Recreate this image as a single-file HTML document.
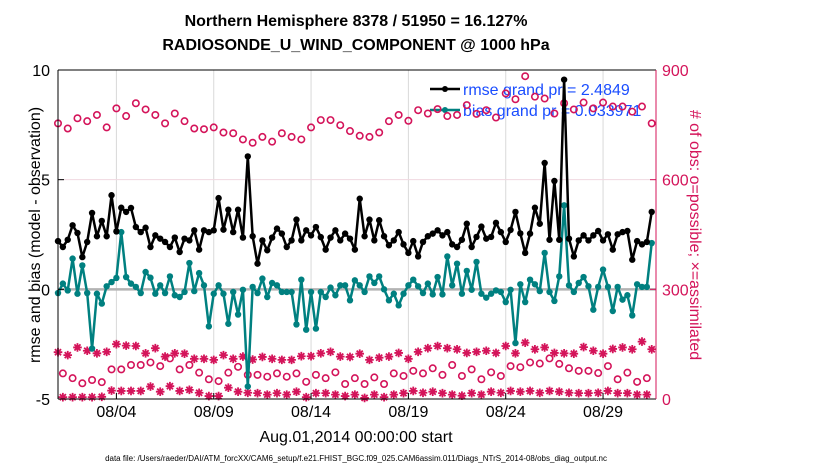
<!DOCTYPE html>
<html><head><meta charset="utf-8">
<style>
html,body{margin:0;padding:0;background:#fff;}
svg{display:block;font-family:"Liberation Sans",sans-serif;}
</style></head>
<body>
<svg id="chart" width="830" height="470" viewBox="0 0 830 470" xmlns="http://www.w3.org/2000/svg">
<rect x="0" y="0" width="830" height="470" fill="#fff"/>
<g id="grid"></g>
<g id="legend">
  <line x1="430" y1="89" x2="460" y2="89" stroke="#000" stroke-width="2.5"/>
  <circle cx="445" cy="89" r="3" fill="#000"/>
  <text x="463" y="95" font-size="16" fill="#1a4dff">rmse grand pr = 2.4849</text>
  <line x1="430" y1="110" x2="460" y2="110" stroke="#008080" stroke-width="2.5"/>
  <circle cx="445" cy="110" r="3" fill="#008080"/>
  <text x="463" y="116" font-size="16" fill="#1a4dff">bias grand pr = 0.033971</text>
</g>
<g id="marks"></g>
<g id="axes"></g>
<text x="356" y="26" font-size="16" font-weight="bold" text-anchor="middle">Northern Hemisphere 8378 / 51950 = 16.127%</text>
<text x="356" y="50" font-size="16" font-weight="bold" text-anchor="middle">RADIOSONDE_U_WIND_COMPONENT @ 1000 hPa</text>
<text transform="translate(40,235) rotate(-90)" font-size="16" text-anchor="middle">rmse and bias (model - observation)</text>
<text transform="translate(690,235) rotate(90)" font-size="16" text-anchor="middle" fill="#d4145a"># of obs: o=possible; ×=assimilated</text>
<text x="356" y="442" font-size="16" text-anchor="middle">Aug.01,2014 00:00:00 start</text>
<text x="356" y="461" font-size="8" text-anchor="middle">data file: /Users/raeder/DAI/ATM_forcXX/CAM6_setup/f.e21.FHIST_BGC.f09_025.CAM6assim.011/Diags_NTrS_2014-08/obs_diag_output.nc</text>
</svg>
<script>
const rmse = [2.2,1.93,2.26,2.92,2.57,1.47,2.16,3.48,2.42,3.12,2.42,4.29,2.64,3.72,3.53,3.71,2.84,2.61,2.81,1.93,2.46,2.31,
2.16,1.93,2.36,1.70,2.31,2.23,2.69,1.81,2.69,2.61,2.69,4.16,2.72,3.63,2.61,3.63,2.36,6.06,2.42,1.17,
2.23,1.78,2.36,2.77,2.54,1.93,2.23,3.18,2.23,2.69,2.46,2.84,2.38,1.81,2.36,2.69,2.23,2.54,2.31,1.81,4.13,
2.42,3.18,2.23,3.15,2.42,2.01,2.23,2.61,2.05,1.66,2.2,1.50,2.16,2.42,2.54,2.69,2.46,2.61,2.05,1.93,
2.26,2.99,1.93,2.39,2.86,2.31,2.39,3.03,2.61,2.16,2.71,3.53,2.55,1.66,2.54,3.72,2.99,5.76,2.26,4.94,2.26,
9.56,2.31,1.50,2.23,2.46,2.23,2.46,2.66,2.23,2.51,1.81,2.51,2.61,2.66,1.35,2.20,2.05,2.16,3.53];
const bias = [-0.17,0.26,-0.05,1.40,-0.2,1.09,-0.17,-2.7,-0.2,-0.65,0.14,0.33,0.52,2.61,0.56,0.26,0.11,-0.17,0.79,0.53,-0.2,0.18,
-0.17,0.59,-0.27,-0.35,-0.12,1.20,-0.08,0.74,0.18,-1.69,-0.2,0.18,-0.2,-1.57,-0.12,-1.15,-0.02,-4.43,0.11,-0.17,
0.49,-0.35,0.29,0.18,-0.12,-0.12,-0.12,-1.60,0.44,-1.84,-0.12,-1.79,-0.12,-0.35,0.08,-0.27,0.18,0.18,-0.5,0.41,0.18,
-0.12,0.59,0.29,0.59,0,-0.5,-0.2,-0.73,-0.2,0.18,0.44,0.14,-0.17,0.26,-0.23,0.56,-0.23,1.50,0.18,1.17,
-0.2,0.84,-0.02,1.25,-0.2,-0.38,-0.2,-0.05,-0.12,-0.58,-0.02,-2.45,0.23,-0.58,0.44,0.23,-0.08,1.66,-0.12,-0.53,0.59,
3.83,0.18,-0.12,0.29,0.56,0.14,-0.93,0.11,0.90,0.11,-0.99,0.11,-0.47,-0.27,-1.19,0.23,0.11,0.11,2.11];
const possibleMain = [754,740,768,760,777,743,795,774,809,792,777,754,781,760,740,738,743,729,727,710,701,717,
704,727,717,710,743,763,763,749,733,720,717,729,760,777,761,790,781,793,774,777,
804,780,790,770,836,820,883,827,822,781,
809,792,811,795,811,800,800,786,800,754];
const possibleOff = [70,57,43,52,46,81,81,93,93,100,90,111,81,93,72,54,49,72,88,66,66,
61,70,61,70,47,66,57,73,41,57,41,59,41,70,63,77,70,84,66,93,63,
81,54,73,63,90,87,100,97,111,96,
84,77,77,71,90,54,72,47,57];
const assimMain = [128,120,141,132,125,129,150,146,145,125,139,116,125,124,110,110,107,120,110,116,108,115,
110,107,107,117,117,125,129,116,115,124,107,113,116,126,110,129,139,145,139,136,
126,129,132,126,145,125,154,136,141,126,
125,124,142,132,124,137,141,136,157,136];
const assimOff = [5,5,5,5,6,23,22,22,22,34,20,35,22,25,17,8,8,31,20,17,16,
12,16,12,20,5,16,16,12,8,12,3,12,5,12,16,22,17,20,16,12,9,
16,12,20,17,22,20,22,17,22,20,
17,16,16,17,22,16,16,12,12];
const xTickDays = [3,8,13,18,23,28];
const xTickLabels = ['08/04','08/09','08/14','08/19','08/24','08/29'];
const yTicks = [10,5,0,-5];
const y2Ticks = [0,300,600,900];

const L=58,R=656,T=70,B=399;
const dayMax=30.72;
const xS=d=>L+(d/dayMax)*(R-L);
const yS=v=>B-(v+5)/15*(B-T);
const y2S=v=>B-v/900*(B-T);
const NS='http://www.w3.org/2000/svg';
const CR='#d4145a';
function mk(tag,attrs,parent){const e=document.createElementNS(NS,tag);for(const k in attrs)e.setAttribute(k,attrs[k]);parent.appendChild(e);return e;}
const grid=document.getElementById('grid'),marks=document.getElementById('marks'),axes=document.getElementById('axes');

xTickDays.forEach((d,i)=>{
  const g=mk('line',{x1:xS(d),x2:xS(d),y1:T,y2:B,stroke:'#d9d9d9','stroke-width':1},grid);
  
  
  const t=mk('text',{x:xS(d),y:B+18,'font-size':16,'text-anchor':'middle'},axes);
  t.textContent=xTickLabels[i];
  
  
  mk('line',{x1:xS(d),x2:xS(d),y1:B,y2:B-6,stroke:'#000'},axes);
});
yTicks.forEach(v=>{
  if(v===5){const g=mk('line',{x1:L,x2:R,y1:yS(v),y2:yS(v),stroke:'#f0d8e0','stroke-width':1},grid);
    
    }
  const t=mk('text',{x:L-8,y:yS(v)+6,'font-size':16,'text-anchor':'end'},axes);
  t.textContent=v;
  
  
  mk('line',{x1:L,x2:L+6,y1:yS(v),y2:yS(v),stroke:'#000'},axes);
});
y2Ticks.forEach(v=>{
  const t=mk('text',{x:R+6,y:y2S(v)+6,'font-size':16,fill:CR},axes);
  t.textContent=v;
  
  
  mk('line',{x1:R,x2:R-6,y1:y2S(v),y2:y2S(v),stroke:CR},axes);
});
const z=mk('line',{x1:L,x2:R,y1:yS(0),y2:yS(0),stroke:'#b3b3b3','stroke-width':2.5},grid);



const dayOf=i=>i*0.25;
function star(cx,cy,parent){
  const r=4.3;let d='';
  for(let k=0;k<4;k++){const a=k*Math.PI/4;d+=`M${cx-r*Math.cos(a)},${cy-r*Math.sin(a)}L${cx+r*Math.cos(a)},${cy+r*Math.sin(a)}`;}
  const p=mk('path',{d:d,stroke:CR,'stroke-width':1.8,fill:'none'},parent);
  
  
}
function circ(cx,cy,parent){
  const c=mk('circle',{cx:cx,cy:cy,r:3.2,fill:'none',stroke:CR,'stroke-width':1.6},parent);
  
  
}
possibleMain.forEach((v,k)=>circ(xS(dayOf(2*k)),y2S(v),marks));
possibleOff.forEach((v,k)=>circ(xS(dayOf(2*k+1)),y2S(v),marks));
assimMain.forEach((v,k)=>star(xS(dayOf(2*k)),y2S(v),marks));
assimOff.forEach((v,k)=>star(xS(dayOf(2*k+1)),y2S(v),marks));

function series(arr,color,name){
  const pts=arr.map((v,i)=>xS(dayOf(i)).toFixed(2)+','+yS(v).toFixed(2)).join(' ');
  const pl=mk('polyline',{points:pts,fill:'none',stroke:color,'stroke-width':2.5,'stroke-linejoin':'round'},marks);
  
  
  arr.forEach((v,i)=>{
    const c=mk('circle',{cx:xS(dayOf(i)),cy:yS(v),r:3.2,fill:color},marks);
    
    
  });
}
series(bias,'#008080','bias');
series(rmse,'#000000','rmse');

mk('line',{x1:L,x2:L,y1:T,y2:B,stroke:'#000','stroke-width':1},axes);
mk('line',{x1:L,x2:R,y1:B,y2:B,stroke:'#000','stroke-width':1},axes);
mk('line',{x1:L,x2:R,y1:T,y2:T,stroke:'#000','stroke-width':1},axes);
mk('line',{x1:R,x2:R,y1:T,y2:B,stroke:CR,'stroke-width':1},axes);
</script>
</body></html>
